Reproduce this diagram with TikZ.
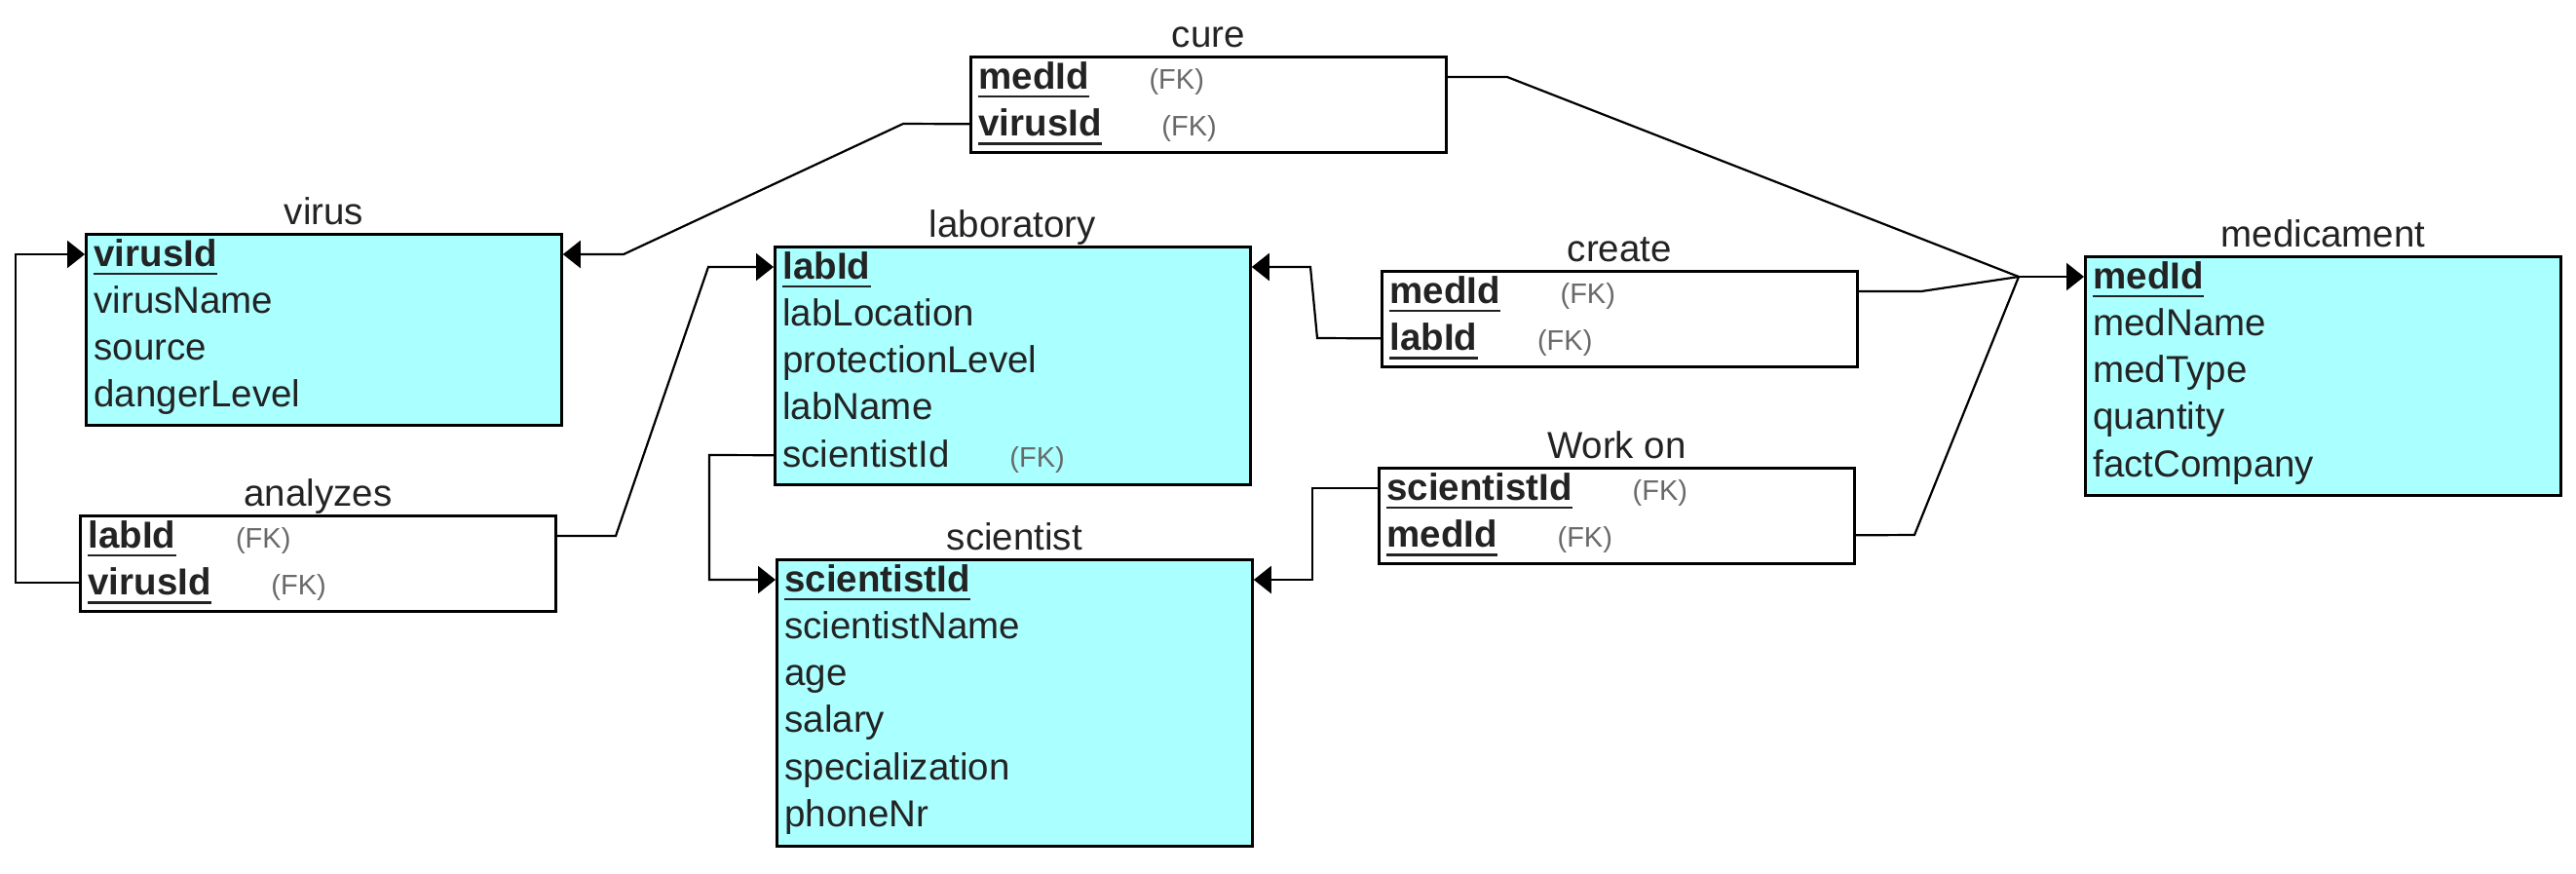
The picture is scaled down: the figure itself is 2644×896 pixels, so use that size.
\documentclass[tikz,border=0pt]{standalone}
\usepackage{fontspec}
\setmainfont{Liberation Sans}
\usetikzlibrary{arrows.meta}
\definecolor{cyanfill}{RGB}{170,255,255}
\definecolor{txt}{RGB}{35,35,35}
\definecolor{fkc}{RGB}{105,105,105}
\tikzset{
 tbl/.style={draw=black, line width=1.4pt, anchor=north west, minimum width=244pt, inner sep=0pt},
 ent/.style={tbl, fill=cyanfill},
 rel/.style={tbl, fill=white},
 ttl/.style={anchor=base, inner sep=0pt, font=\fontsize{19.25}{22}\selectfont, text=txt},
 fld/.style={anchor=base west, inner sep=0pt, font=\fontsize{19.25}{22}\selectfont, text=txt},
 keyf/.style={anchor=base west, inner sep=0pt, font=\fontsize{19.25}{22}\selectfont\bfseries, text=txt},
 fk/.style={anchor=base west, inner sep=0pt, font=\fontsize{14.5}{17}\selectfont, text=fkc},
 uline/.style={line width=1.2pt, draw=txt},
 conn/.style={draw=black, line width=1.1pt},
 arr/.style={draw=black, line width=1.1pt, -{Triangle[length=9pt,width=14pt]}},
}
\newcommand{\keyfld}[3]{\node[keyf] (#1) at (#2) {#3};
  \draw[uline] ([yshift=-4pt]#1.base west) -- ([yshift=-4pt]#1.base east);
  \coordinate (c-#1) at ([yshift=6pt]#1.base west);}
\newcommand{\plainfld}[3]{\node[fld] (#1) at (#2) {#3};
  \coordinate (c-#1) at ([yshift=6pt]#1.base west);}
\newcommand{\fkmark}[1]{\node[fk] (#1fk) at ([xshift=30.5pt]#1.base east) {(FK)};}
\begin{document}
\begin{tikzpicture}[x=0.5pt, y=-0.5pt]
\useasboundingbox (0,0) rectangle (2644,896);

% ---------- tables ----------
\node[ent, minimum height=98pt] (v) at (87,239) {};
\node[ttl] (vt) at ([yshift=4.5pt]v.north) {virus};
\keyfld{vid}{[xshift=4.5pt,yshift=-17pt]v.north west}{virusId}
\plainfld{vname}{[xshift=4.5pt,yshift=-41.15pt]v.north west}{virusName}
\plainfld{vsrc}{[xshift=4.5pt,yshift=-65.3pt]v.north west}{source}
\plainfld{vdl}{[xshift=4.5pt,yshift=-89.45pt]v.north west}{dangerLevel}

\node[rel, minimum height=49pt] (an) at (81,528) {};
\node[ttl] (ant) at ([yshift=4.5pt]an.north) {analyzes};
\keyfld{alab}{[xshift=4.5pt,yshift=-17pt]an.north west}{labId}
\fkmark{alab}
\keyfld{avid}{[xshift=4.5pt,yshift=-41.15pt]an.north west}{virusId}
\fkmark{avid}

\node[rel, minimum height=49pt] (cu) at (995,57) {};
\node[ttl] (cut) at ([yshift=4.5pt]cu.north) {cure};
\keyfld{cmed}{[xshift=4.5pt,yshift=-17pt]cu.north west}{medId}
\fkmark{cmed}
\keyfld{cvid}{[xshift=4.5pt,yshift=-41.15pt]cu.north west}{virusId}
\fkmark{cvid}

\node[ent, minimum height=122pt] (l) at (794,252) {};
\node[ttl] (lt) at ([yshift=4.5pt]l.north) {laboratory};
\keyfld{llab}{[xshift=4.5pt,yshift=-17pt]l.north west}{labId}
\plainfld{lloc}{[xshift=4.5pt,yshift=-41.15pt]l.north west}{labLocation}
\plainfld{lprot}{[xshift=4.5pt,yshift=-65.3pt]l.north west}{protectionLevel}
\plainfld{lname}{[xshift=4.5pt,yshift=-89.45pt]l.north west}{labName}
\plainfld{lsid}{[xshift=4.5pt,yshift=-113.6pt]l.north west}{scientistId}
\fkmark{lsid}

\node[ent, minimum height=147pt] (s) at (796,573) {};
\node[ttl] (st) at ([yshift=4.5pt]s.north) {scientist};
\keyfld{ssid}{[xshift=4.5pt,yshift=-17pt]s.north west}{scientistId}
\plainfld{sname}{[xshift=4.5pt,yshift=-41.15pt]s.north west}{scientistName}
\plainfld{sage}{[xshift=4.5pt,yshift=-65.3pt]s.north west}{age}
\plainfld{ssal}{[xshift=4.5pt,yshift=-89.45pt]s.north west}{salary}
\plainfld{sspec}{[xshift=4.5pt,yshift=-113.6pt]s.north west}{specialization}
\plainfld{sph}{[xshift=4.5pt,yshift=-137.75pt]s.north west}{phoneNr}

\node[rel, minimum height=49pt] (cr) at (1417,277) {};
\node[ttl] (crt) at ([yshift=4.5pt]cr.north) {create};
\keyfld{crmed}{[xshift=4.5pt,yshift=-17pt]cr.north west}{medId}
\fkmark{crmed}
\keyfld{crlab}{[xshift=4.5pt,yshift=-41.15pt]cr.north west}{labId}
\fkmark{crlab}

\node[rel, minimum height=49pt] (w) at (1414,479) {};
\node[ttl] (wt) at ([yshift=4.5pt]w.north) {Work on};
\keyfld{wsid}{[xshift=4.5pt,yshift=-17pt]w.north west}{scientistId}
\fkmark{wsid}
\keyfld{wmed}{[xshift=4.5pt,yshift=-41.15pt]w.north west}{medId}
\fkmark{wmed}

\node[ent, minimum height=122.5pt] (m) at (2139,262) {};
\node[ttl] (mt) at ([yshift=4.5pt]m.north) {medicament};
\keyfld{mmed}{[xshift=4.5pt,yshift=-17pt]m.north west}{medId}
\plainfld{mname}{[xshift=4.5pt,yshift=-41.15pt]m.north west}{medName}
\plainfld{mtype}{[xshift=4.5pt,yshift=-65.3pt]m.north west}{medType}
\plainfld{mqty}{[xshift=4.5pt,yshift=-89.45pt]m.north west}{quantity}
\plainfld{mfc}{[xshift=4.5pt,yshift=-113.6pt]m.north west}{factCompany}

% ---------- connectors ----------
\draw[arr] (an.west |- c-avid) -- ++(-65,0) |- (v.west |- c-vid);
\draw[arr] (an.east |- c-alab) -- (632,550) -- (727,274) -- (l.west |- c-llab);
\draw[arr] (cu.west |- c-cvid) -- (927,127) -- (640,261) -- (v.east |- c-vid);
\draw[arr] (l.west |- c-lsid) -- (728,467) -- (728,595) -- (s.west |- c-ssid);
\draw[arr] (cr.west |- c-crlab) -- (1352,347) -- (1345,274) -- (l.east |- c-llab);
\draw[arr] (w.west |- c-wsid) -- (1347,501) -- (1347,595) -- (s.east |- c-ssid);
\coordinate (J) at (2072,284);
\draw[conn] (cu.east |- c-cmed) -- (1547,79) -- (J);
\draw[conn] (cr.east |- c-crmed) -- (1972,299) -- (J);
\draw[conn] (w.east |- c-wmed) -- (1965,549) -- (J);
\draw[arr] (J) -- (m.west |- c-mmed);
\end{tikzpicture}
\end{document}
